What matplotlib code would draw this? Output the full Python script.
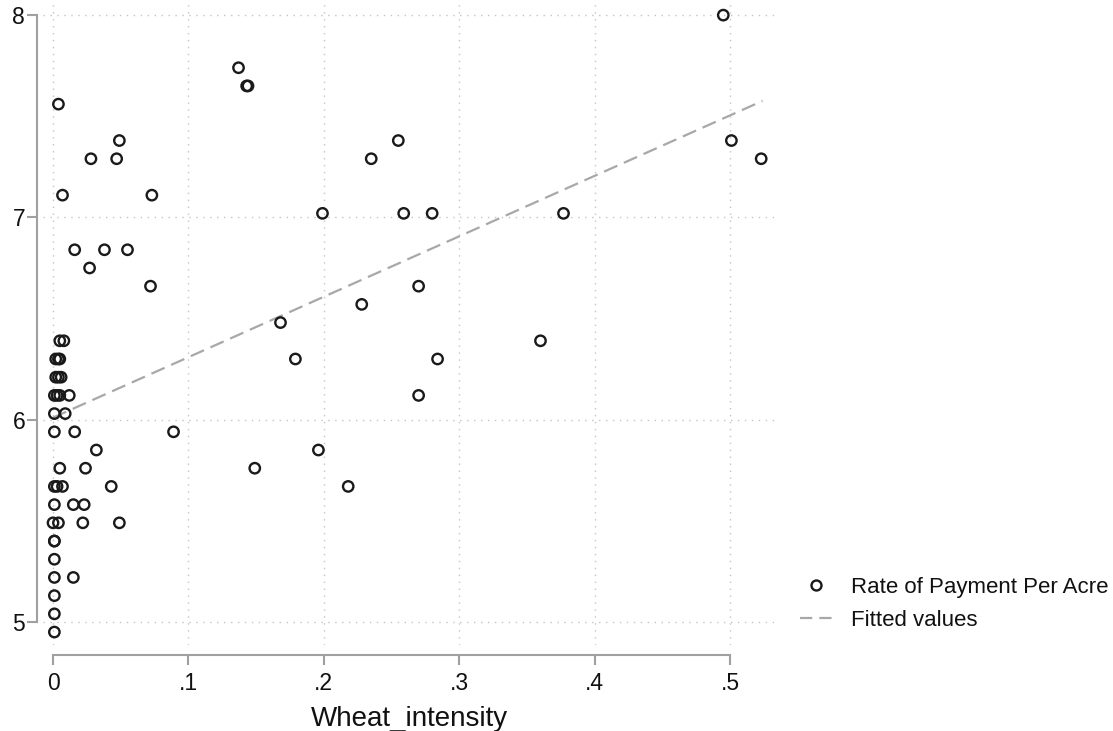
import matplotlib
matplotlib.use("Agg")
import matplotlib.pyplot as plt
from matplotlib.lines import Line2D

plt.rcParams['font.family'] = ['Liberation Sans', 'DejaVu Sans']

# ---- data ----
wheat_intensity = [
    0.495,
    0.137,
    0.143, 0.144,
    0.004,
    0.049, 0.255, 0.501,
    0.028, 0.047, 0.235, 0.523,
    0.007, 0.073,
    0.199, 0.259, 0.280, 0.377,
    0.016, 0.038, 0.055,
    0.027,
    0.072, 0.270,
    0.228,
    0.168,
    0.005, 0.008, 0.360,
    0.002, 0.004, 0.005, 0.179, 0.284,
    0.002, 0.004, 0.006,
    0.001, 0.003, 0.005, 0.012, 0.270,
    0.001, 0.009,
    0.001, 0.016, 0.089,
    0.032, 0.196,
    0.005, 0.024, 0.149,
    0.001, 0.003, 0.007, 0.043, 0.218,
    0.001, 0.015, 0.023,
    0.000, 0.004, 0.022, 0.049,
    0.001, 0.001,
    0.001,
    0.001, 0.015,
    0.001,
    0.001,
    0.001,
]
rate_per_acre = [
    8.00,
    7.74,
    7.65, 7.65,
    7.56,
    7.38, 7.38, 7.38,
    7.29, 7.29, 7.29, 7.29,
    7.11, 7.11,
    7.02, 7.02, 7.02, 7.02,
    6.84, 6.84, 6.84,
    6.75,
    6.66, 6.66,
    6.57,
    6.48,
    6.39, 6.39, 6.39,
    6.30, 6.30, 6.30, 6.30, 6.30,
    6.21, 6.21, 6.21,
    6.12, 6.12, 6.12, 6.12, 6.12,
    6.03, 6.03,
    5.94, 5.94, 5.94,
    5.85, 5.85,
    5.76, 5.76, 5.76,
    5.67, 5.67, 5.67, 5.67, 5.67,
    5.58, 5.58, 5.58,
    5.49, 5.49, 5.49, 5.49,
    5.40, 5.40,
    5.31,
    5.22, 5.22,
    5.13,
    5.04,
    4.95,
]
fitted_x = [0.0, 0.524]
fitted_y = [6.01, 7.576]

x_ticks = [0, 0.1, 0.2, 0.3, 0.4, 0.5]
x_tick_labels = ["0", ".1", ".2", ".3", ".4", ".5"]
y_ticks = [5, 6, 7, 8]
y_tick_labels = ["5", "6", "7", "8"]

# ---- figure ----
W, H, DPI = 1113, 731, 100
fig = plt.figure(figsize=(W / DPI, H / DPI), dpi=DPI)
ax = fig.add_axes([43 / W, (H - 645) / H, (775 - 43) / W, (645 - 3) / H])

ax.set_xlim(-0.0074, 0.5332)
ax.set_ylim(4.886, 8.06)

grid_kw = dict(color='#c4c4c4', linewidth=1.0, linestyle=(0, (1, 4)), zorder=0)
ax.grid(True, **grid_kw)

ax.scatter(wheat_intensity, rate_per_acre, s=56, facecolors='none',
           edgecolors='#1a1a1a', linewidths=1.7, zorder=3,
           label='Rate of Payment Per Acre')
ax.plot(fitted_x, fitted_y, color='#a8a8a8', linewidth=1.6,
        dashes=(6.5, 3.2), zorder=2, label='Fitted values')

for s in ['top', 'right']:
    ax.spines[s].set_visible(False)
ax.spines['left'].set_position(('outward', 4.3))
ax.spines['bottom'].set_position(('outward', 7.2))
ax.spines['left'].set_bounds(5, 8)
ax.spines['bottom'].set_bounds(0, 0.5)
for s in ['left', 'bottom']:
    ax.spines[s].set_color('#a0a0a0')
    ax.spines[s].set_linewidth(1.5)

ax.set_xticks(x_ticks)
ax.set_xticklabels(x_tick_labels)
ax.set_yticks(y_ticks)
ax.set_yticklabels(y_tick_labels)
ax.tick_params(axis='both', colors='#a0a0a0', labelcolor='#111111',
               labelsize=16.5, length=7, width=1.5)
ax.tick_params(axis='x', pad=5)
ax.tick_params(axis='y', pad=1.5)

ax.set_xlabel('Wheat_intensity', fontsize=20, color='#111111', labelpad=8)

handles = [
    Line2D([], [], linestyle='none', marker='o', markersize=7.2,
           markerfacecolor='none', markeredgecolor='#1a1a1a', markeredgewidth=1.7),
    Line2D([], [], color='#a8a8a8', linewidth=1.6, dashes=(5.5, 3.2)),
]
fig.legend(handles, ['Rate of Payment Per Acre', 'Fitted values'],
           loc='center left', bbox_to_anchor=(800 / W, 1 - 604 / H),
           frameon=False, fontsize=16, handlelength=1.45, handletextpad=0.85,
           labelspacing=0.55, borderpad=0, borderaxespad=0, labelcolor='#111111')

fig.savefig('out.png', dpi=DPI)
